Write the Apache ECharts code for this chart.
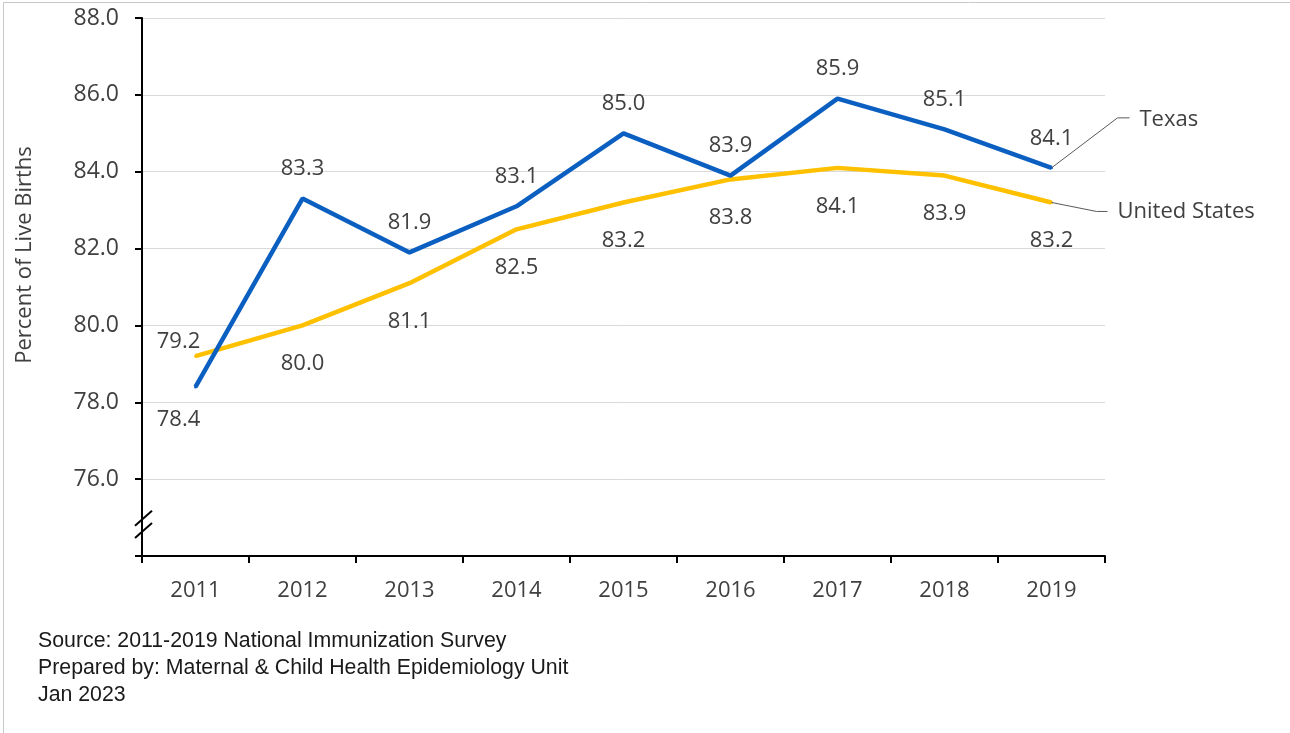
<!DOCTYPE html>
<html>
<head>
<meta charset="utf-8">
<script src="https://cdn.jsdelivr.net/npm/echarts/dist/echarts.min.js"></script>
<style>
  html, body { margin: 0; padding: 0; background: #fff; }
  #main { width: 1290px; height: 733px; }
</style>
</head>
<body>
<div id="main"></div>
<script>
const years = ['2011', '2012', '2013', '2014', '2015', '2016', '2017', '2018', '2019'];
const texas = [78.4, 83.3, 81.9, 83.1, 85.0, 83.9, 85.9, 85.1, 84.1];
const unitedStates = [79.2, 80.0, 81.1, 82.5, 83.2, 83.8, 84.1, 83.9, 83.2];
const seriesNames = ['Texas', 'United States'];
const yTitle = 'Percent of Live Births';
const footnotes = [
  'Source: 2011-2019 National Immunization Survey',
  'Prepared by: Maternal & Child Health Epidemiology Unit',
  'Jan 2023'
];

const FONT = '"Open Sans", "Noto Sans", sans-serif';
const TEXT = '#404040';
const BLUE = '#0B5FC1';
const GOLD = '#FFC000';

const chart = echarts.init(document.getElementById('main'));

const labelBase = {
  show: true,
  fontFamily: FONT,
  fontSize: 22,
  color: TEXT,
  lineHeight: 26,
  formatter: function (p) { return p.value.toFixed(1); }
};

// first-year labels sit off to the left, the rest are plain above / below
const texasData = texas.map(function (v, i) {
  if (i === 0) return { value: v, label: { position: 'bottom', distance: 18, offset: [-17, 0] } };
  return v;
});
const usData = unitedStates.map(function (v, i) {
  if (i === 0) return { value: v, label: { position: 'top', distance: 0, offset: [-17, 0] } };
  return v;
});

chart.setOption({
  animation: false,
  backgroundColor: '#fff',
  grid: { left: 142, right: 185, top: 18, bottom: 177 },
  xAxis: {
    type: 'category',
    data: years,
    boundaryGap: true,
    axisLine: { lineStyle: { color: '#000', width: 2 } },
    axisTick: { show: true, length: 7, lineStyle: { color: '#000', width: 2 } },
    axisLabel: { fontFamily: FONT, fontSize: 22, color: TEXT, margin: 24 }
  },
  yAxis: {
    type: 'value',
    min: 74,
    max: 88,
    interval: 2,
    axisLine: { show: true, lineStyle: { color: '#000', width: 2 } },
    axisTick: { show: true, length: 7, lineStyle: { color: '#000', width: 2 } },
    axisLabel: {
      fontFamily: FONT, fontSize: 23, color: TEXT, margin: 23,
      formatter: function (v) { return v === 74 ? '' : v.toFixed(1); }
    },
    splitLine: { lineStyle: { color: '#d9d9d9', width: 1 } }
  },
  series: [
    {
      name: seriesNames[0],
      type: 'line',
      data: texasData,
      symbol: 'circle',
      symbolSize: 3,
      itemStyle: { color: BLUE },
      z: 3,
      lineStyle: { color: BLUE, width: 4.5 },
      label: Object.assign({}, labelBase, { position: 'top', distance: 15 })
    },
    {
      name: seriesNames[1],
      type: 'line',
      data: usData,
      symbol: 'circle',
      symbolSize: 3,
      itemStyle: { color: GOLD },
      z: 2,
      lineStyle: { color: GOLD, width: 4.5 },
      label: Object.assign({}, labelBase, { position: 'bottom', distance: 24 })
    }
  ]
});

// leader lines to the series names, axis break marks, axis title, footnote, frame
const lastIdx = years.length - 1;
const tx = chart.convertToPixel({ gridIndex: 0 }, [lastIdx, texas[lastIdx]]);
const us = chart.convertToPixel({ gridIndex: 0 }, [lastIdx, unitedStates[lastIdx]]);
const grid = chart.getModel().getComponent('grid').coordinateSystem.getRect();
const brkA = chart.convertToPixel({ yAxisIndex: 0 }, 74.97);
const brkB = chart.convertToPixel({ yAxisIndex: 0 }, 74.65);

const leader = { stroke: '#595959', lineWidth: 1 };
const nameStyle = { fontFamily: FONT, fontSize: 22, fill: TEXT, verticalAlign: 'middle' };

chart.setOption({
  graphic: [
    { type: 'polyline', shape: { points: [[tx[0], tx[1]], [tx[0] + 66, tx[1] - 50], [tx[0] + 78, tx[1] - 50]] }, style: leader, z: 10 },
    { type: 'text', x: tx[0] + 88, y: tx[1] - 48, style: Object.assign({ text: seriesNames[0] }, nameStyle) },
    { type: 'polyline', shape: { points: [[us[0], us[1]], [us[0] + 45, us[1] + 9], [us[0] + 56, us[1] + 9]] }, style: leader, z: 10 },
    { type: 'text', x: us[0] + 66, y: us[1] + 9, style: Object.assign({ text: seriesNames[1] }, nameStyle) },
    { type: 'line', shape: { x1: grid.x - 7, y1: brkA + 7, x2: grid.x + 10, y2: brkA - 8 }, style: { stroke: '#000', lineWidth: 2 }, z: 10 },
    { type: 'line', shape: { x1: grid.x - 7, y1: brkB + 7, x2: grid.x + 10, y2: brkB - 8 }, style: { stroke: '#000', lineWidth: 2 }, z: 10 },
    {
      type: 'text', x: 25, y: 255, rotation: Math.PI / 2,
      style: { text: yTitle, fontFamily: FONT, fontSize: 22, fill: TEXT, align: 'center', verticalAlign: 'middle' }
    },
    {
      type: 'text', left: 38, top: 628,
      style: { text: footnotes.join('\n'), fontFamily: 'Liberation Sans, Arial, sans-serif', fontSize: 21.3, lineHeight: 27, fill: '#1a1a1a' }
    },
    { type: 'line', shape: { x1: 3.5, y1: 2.5, x2: 1290, y2: 2.5 }, style: { stroke: '#c8c8c8', lineWidth: 1 } },
    { type: 'line', shape: { x1: 3.5, y1: 2.5, x2: 3.5, y2: 733 }, style: { stroke: '#c8c8c8', lineWidth: 1 } }
  ]
});
</script>
</body>
</html>
